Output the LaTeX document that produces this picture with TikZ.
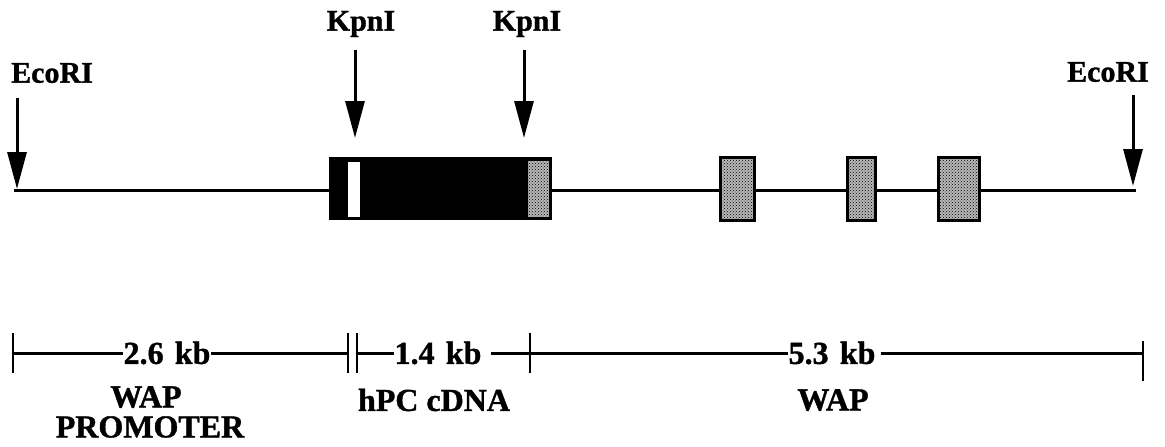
\documentclass[tikz,border=0pt]{standalone}
\usepackage{fontspec}
\setmainfont{Liberation Serif}
\newfontfamily\labelfont{Liberation Serif Bold}[FakeBold=1.2]
\usetikzlibrary{arrows.meta,patterns}
\tikzset{
  lbl/.style={font=\labelfont\fontsize{32}{28}\selectfont, inner sep=0pt, align=center},
  sitelbl/.style={lbl, font=\labelfont\fontsize{30}{28}\selectfont},
  dna/.style={line width=3pt},
  site/.style={line width=3pt, -{Triangle[width=19pt,length=37pt]}},
  stipple/.style={preaction={fill=black!28}, pattern=crosshatch dots},
  exon/.style={draw=black, line width=3pt, stipple},
  bar/.style={line width=3pt},
  tick/.style={line width=2.5pt}
}
\begin{document}
\begin{tikzpicture}[x=1pt,y=-1pt]
\useasboundingbox (0,0) rectangle (1165,447);

% backbone
\coordinate (dnaL) at (14,190);
\coordinate (dnaR) at (1136,190);
\draw[dna] (dnaL) -- (dnaR);

% hPC cDNA insert with start marker and first WAP exon
\fill[black] (329,157) rectangle (552,220);
\fill[white] (348,162) rectangle (360,217);
\fill[stipple] (528,161) rectangle (549,217);

% downstream WAP exons
\draw[exon] (720,157) rectangle (754,220);
\draw[exon] (847,157) rectangle (875,220);
\draw[exon] (938,157) rectangle (979,220);

% restriction sites
\node[sitelbl] (eco1) at (52,73) {EcoRI};
\node[sitelbl] (kpn1) at (361,24) {KpnI};
\node[sitelbl] (kpn2) at (527,24) {KpnI};
\node[sitelbl] (eco2) at (1108,72) {EcoRI};

\coordinate (e1s) at (17,98);   \coordinate (e1t) at (17,189);
\coordinate (k1s) at (355,50);  \coordinate (k1t) at (355,138);
\coordinate (k2s) at (524,50);  \coordinate (k2t) at (524,138);
\coordinate (e2s) at (1133,95); \coordinate (e2t) at (1133,186);
\draw[site] (e1s) -- (e1t);
\draw[site] (k1s) -- (k1t);
\draw[site] (k2s) -- (k2t);
\draw[site] (e2s) -- (e2t);

% size scale
\node[lbl] (s26) at (167,353) {2.6\hskip0.35em kb};
\node[lbl] (s14) at (438,353) {1.4\hskip0.35em kb};
\node[lbl] (s53) at (832,353) {5.3\hskip0.35em kb};

\coordinate (t0) at (13,353);
\coordinate (t1) at (348,353);
\coordinate (t2) at (357,353);
\coordinate (t3) at (530,353);
\coordinate (t4) at (1143,353);

\draw[bar] (t0) -- (s26.west);
\draw[bar] (s26.east) -- (t1);
\draw[bar] (t2) -- (s14.west);
\draw[bar] (s14.east) ++(9,0) -- (t3);
\draw[bar] (t3) -- (s53.west);
\draw[bar] (s53.east) ++(5,0) -- (t4);

\foreach \t in {t0,t1,t2,t3} {
  \draw[tick] ([yshift=-20pt]\t) -- ([yshift=20pt]\t);
}
\draw[tick] ([yshift=-28pt]t4) -- ([yshift=12pt]t4);

% region names
\node[lbl] (prom1) at (146,397) {WAP};
\node[lbl] (prom2) at (150,427) {PROMOTER};
\node[lbl] (cdna) at (434,400) {hPC cDNA};
\node[lbl] (wap) at (833,400) {WAP};
\end{tikzpicture}
\end{document}
